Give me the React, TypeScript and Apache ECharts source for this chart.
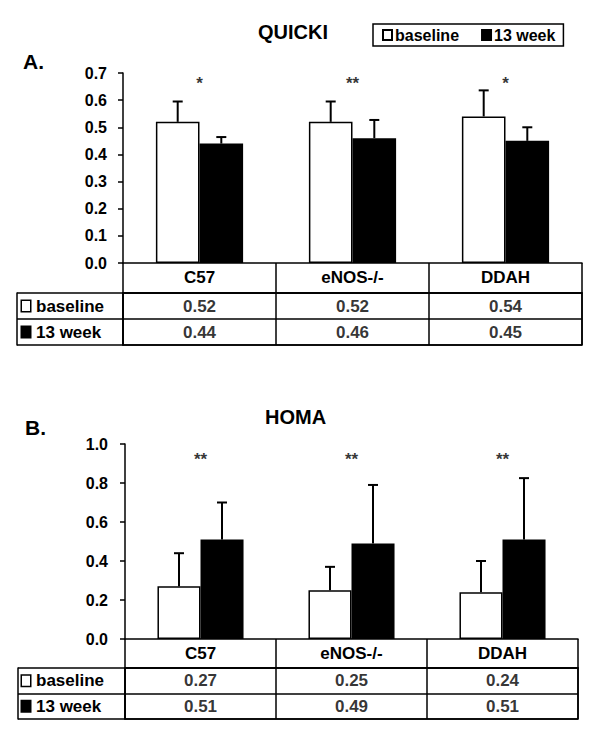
import React, { useEffect, useRef } from "react";
import * as echarts from "echarts";

const categories = ["C57", "eNOS-/-", "DDAH"];
const rowLabels = ["baseline", "13 week"];

const quickiBaseline = [0.52, 0.52, 0.54];
const quickiWeek13 = [0.44, 0.46, 0.45];
const quickiBaselineSD = [0.075, 0.075, 0.096];
const quickiWeek13SD = [0.024, 0.067, 0.05];
const quickiStars = ["*", "**", "*"];

const homaBaseline = [0.27, 0.25, 0.24];
const homaWeek13 = [0.51, 0.49, 0.51];
const homaBaselineSD = [0.17, 0.12, 0.16];
const homaWeek13SD = [0.19, 0.3, 0.315];
const homaStars = ["**", "**", "**"];

const FONT = "'Liberation Sans', Arial, sans-serif";
const GAP = 0.43;

function errorSeries(xi: number, yi: number, means: number[], sds: number[], side: number) {
  return {
    type: "custom",
    xAxisIndex: xi,
    yAxisIndex: yi,
    z: 5,
    silent: true,
    data: means.map((m, i) => [i, m, sds[i], side]),
    encode: { x: 0, y: 1 },
    renderItem: (params: any, api: any) => {
      const ci = api.value(0);
      const mean = api.value(1);
      const sd = api.value(2);
      const sd0 = api.value(3);
      const base = api.coord([ci, mean]);
      const top = api.coord([ci, mean + sd]);
      const band = api.size([1, 0])[0];
      const barW = (band * (1 - GAP)) / 2;
      const x = base[0] + (sd0 === 0 ? -barW / 2 : barW / 2);
      return {
        type: "group",
        children: [
          { type: "line", shape: { x1: x, y1: base[1], x2: x, y2: top[1] }, style: { stroke: "#000", lineWidth: 2 } },
          { type: "line", shape: { x1: x - 5, y1: top[1], x2: x + 5, y2: top[1] }, style: { stroke: "#000", lineWidth: 2 } },
        ],
      };
    },
  };
}

function barSeries(name: string, xi: number, yi: number, data: number[], color: string) {
  return {
    type: "bar",
    name,
    xAxisIndex: xi,
    yAxisIndex: yi,
    data,
    barGap: "0%",
    barCategoryGap: GAP * 100 + "%",
    itemStyle: { color, borderColor: "#000", borderWidth: 1.5 },
    z: 3,
  };
}

function starSeries(xi: number, yi: number, stars: string[], y: number) {
  return {
    type: "scatter",
    xAxisIndex: xi,
    yAxisIndex: yi,
    symbol: "rect",
    symbolSize: 1,
    itemStyle: { color: "transparent" },
    silent: true,
    data: stars.map((s, i) => [i, y]),
    label: {
      show: true,
      position: "inside",
      formatter: (p: any) => stars[p.dataIndex],
      fontFamily: FONT,
      fontWeight: "bold",
      fontSize: 17,
      color: "#000",
    },
  };
}

function tableSeries(xi: number, yi: number, rows: number[][]) {
  const data: any[] = [];
  rows.forEach((r, ri) => r.forEach((v, ci) => data.push([ci, ri, v])));
  return {
    type: "scatter",
    xAxisIndex: xi,
    yAxisIndex: yi,
    symbol: "rect",
    symbolSize: 1,
    itemStyle: { color: "transparent" },
    silent: true,
    data,
    label: {
      show: true,
      position: "inside",
      formatter: (p: any) => Number(p.value[2]).toFixed(2),
      fontFamily: FONT,
      fontWeight: "bold",
      fontSize: 17,
      color: "#000",
    },
  };
}

const black = { color: "#000", width: 1.5 };

function valueY(gi: number, max: number, interval: number, margin: number) {
  return {
    type: "value",
    gridIndex: gi,
    min: 0,
    max,
    interval,
    axisLine: { show: true, lineStyle: black },
    axisTick: { show: true, length: 5, lineStyle: black },
    splitLine: { show: false },
    axisLabel: {
      margin,
      formatter: (v: number) => v.toFixed(1),
      fontFamily: FONT,
      fontWeight: "bold",
      fontSize: 16,
      color: "#000",
    },
  };
}

function barX(gi: number) {
  return {
    type: "category",
    gridIndex: gi,
    data: categories,
    axisLine: { show: true, lineStyle: black, onZero: false },
    axisTick: { show: false },
    axisLabel: { show: false },
  };
}

function tableX(gi: number, headerH: number) {
  return {
    type: "category",
    gridIndex: gi,
    position: "top",
    data: categories,
    axisLine: { show: true, lineStyle: black },
    axisTick: { show: true, length: headerH, interval: 0, lineStyle: black },
    splitLine: { show: true, interval: 0, lineStyle: black },
    axisLabel: {
      margin: headerH / 2 - 8,
      interval: 0,
      fontFamily: FONT,
      fontWeight: "bold",
      fontSize: 17,
      color: "#000",
    },
  };
}

const rich = {
  sqW: { width: 8, height: 10, backgroundColor: "#fff", borderColor: "#000", borderWidth: 1.5 },
  sqB: { width: 8, height: 10, backgroundColor: "#000", borderColor: "#000", borderWidth: 1.5 },
  t: { fontFamily: FONT, fontWeight: "bold", fontSize: 17, color: "#000", padding: [0, 0, 0, 6] },
};

function tableY(gi: number, colW: number, labelMargin: number) {
  return {
    type: "category",
    gridIndex: gi,
    inverse: true,
    data: rowLabels,
    axisLine: { show: true, lineStyle: black },
    axisTick: { show: true, length: colW, interval: 0, lineStyle: black },
    splitLine: { show: true, interval: 0, lineStyle: black },
    axisLabel: {
      align: "left",
      margin: labelMargin,
      interval: 0,
      formatter: (v: string, i: number) => (i === 0 ? "{sqW| }{t|" + v + "}" : "{sqB| }{t|" + v + "}"),
      rich,
    },
  };
}

function edgeY(gi: number, colW: number) {
  return {
    type: "category",
    gridIndex: gi,
    inverse: true,
    data: rowLabels,
    position: "left",
    offset: colW,
    axisLine: { show: true, lineStyle: black },
    axisTick: { show: false },
    axisLabel: { show: false },
    splitLine: { show: false },
  };
}

const titleStyle = { fontFamily: FONT, fontWeight: "bold", fontSize: 20, color: "#000" };
const letterStyle = { fontFamily: FONT, fontWeight: "bold", fontSize: 21, color: "#000" };

export default function App() {
  const ref = useRef<HTMLDivElement>(null);
  useEffect(() => {
    if (!ref.current) return;
    const chart = echarts.init(ref.current, null, { renderer: "svg" });
    chart.setOption({
      animation: false,
      backgroundColor: "#fff",
      title: [
        { text: "QUICKI", left: 258, top: 22, padding: 0, textStyle: titleStyle },
        { text: "A.", left: 23, top: 51, padding: 0, textStyle: letterStyle },
        { text: "HOMA", left: 265, top: 407, padding: 0, textStyle: titleStyle },
        { text: "B.", left: 25, top: 417, padding: 0, textStyle: letterStyle },
      ],
      legend: {
        data: ["baseline", "13 week"],
        left: 373,
        top: 24,
        orient: "horizontal",
        icon: "rect",
        itemWidth: 9,
        itemHeight: 10,
        itemGap: 22,
        borderColor: "#000",
        borderWidth: 1.5,
        padding: [3, 8, 3, 9],
        selectedMode: false,
        textStyle: { fontFamily: FONT, fontWeight: "bold", fontSize: 16, color: "#000", padding: [0, 0, 0, -2] },
      },
      grid: [
        { left: 123, top: 73, width: 459, height: 190 },
        { left: 123, top: 293, width: 459, height: 52, show: true, borderColor: "#000", borderWidth: 1.5 },
        { left: 125, top: 444, width: 453, height: 195 },
        { left: 125, top: 668, width: 453, height: 51, show: true, borderColor: "#000", borderWidth: 1.5 },
      ],
      xAxis: [barX(0), tableX(1, 30), barX(2), tableX(3, 29)],
      yAxis: [
        valueY(0, 0.7, 0.1, 16),
        tableY(1, 106, 101),
        edgeY(1, 106),
        valueY(2, 1.0, 0.2, 17),
        tableY(3, 107, 103),
        edgeY(3, 107),
      ],
      series: [
        barSeries("baseline", 0, 0, quickiBaseline, "#fff"),
        barSeries("13 week", 0, 0, quickiWeek13, "#000"),
        errorSeries(0, 0, quickiBaseline, quickiBaselineSD, 0),
        errorSeries(0, 0, quickiWeek13, quickiWeek13SD, 1),
        starSeries(0, 0, quickiStars, 0.66),
        tableSeries(1, 1, [quickiBaseline, quickiWeek13]),
        barSeries("baseline", 2, 3, homaBaseline, "#fff"),
        barSeries("13 week", 2, 3, homaWeek13, "#000"),
        errorSeries(2, 3, homaBaseline, homaBaselineSD, 0),
        errorSeries(2, 3, homaWeek13, homaWeek13SD, 1),
        starSeries(2, 3, homaStars, 0.92),
        tableSeries(3, 4, [homaBaseline, homaWeek13]),
      ],
    });
    return () => chart.dispose();
  }, []);
  return (
    <div
      ref={ref}
      style={{ position: "fixed", left: 0, top: 0, width: 600, height: 738, background: "#fff" }}
    />
  );
}
